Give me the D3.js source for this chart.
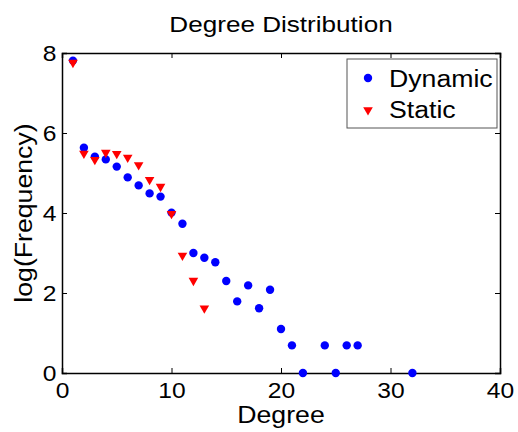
<!DOCTYPE html>
<html>
<head>
<meta charset="utf-8">
<script src="https://cdn.jsdelivr.net/npm/d3@7"></script>
<style>
  body { margin: 0; background: #fff; }
  text { font-family: "Liberation Sans", Arial, sans-serif; fill: #000; }
</style>
</head>
<body>
<svg id="chart" width="518" height="432"></svg>
<script>
// degree values and log(frequency)
const dynamicDegree = [1, 2, 3, 4, 5, 6, 7, 8, 9, 10, 11, 12, 13, 14, 15, 16, 17, 18, 19, 20, 21, 22, 24, 25, 26, 27, 32];
const dynamicLogFreq = [7.81, 5.63, 5.41, 5.34, 5.16, 4.89, 4.69, 4.49, 4.41, 4.01, 3.73, 3.0, 2.88, 2.77, 2.3, 1.79, 2.19, 1.62, 2.08, 1.1, 0.69, 0, 0.69, 0, 0.69, 0.69, 0];
const staticDegree = [1, 2, 3, 4, 5, 6, 7, 8, 9, 10, 11, 12, 13];
const staticLogFreq = [7.76, 5.49, 5.33, 5.51, 5.48, 5.39, 5.2, 4.83, 4.66, 3.98, 2.94, 2.31, 1.62];
const xTicks = [0, 10, 20, 30, 40];
const yTicks = [0, 2, 4, 6, 8];

const margin = {top: 53, right: 18, bottom: 59, left: 62};
const width = 518 - margin.left - margin.right;
const height = 432 - margin.top - margin.bottom;

const svg = d3.select('#chart');
const g = svg.append('g').attr('transform', `translate(${margin.left},${margin.top})`);

const x = d3.scaleLinear().domain([0, 40]).range([0, width]);
const y = d3.scaleLinear().domain([0, 8]).range([height, 0]);

// matlab text looks wider than arial, so stretch it a bit
function label(parent, tx, ty, size, str, rot) {
  return parent.append('text')
    .attr('transform', `translate(${tx},${ty})` + (rot ? ` rotate(${rot})` : '') + ' scale(1.16,1)')
    .attr('text-anchor', 'middle')
    .style('font-size', size + 'px')
    .text(str);
}

// axes, ticks pointing inward
const tickFmt = d3.format('d');
g.append('g').attr('class', 'xaxis').attr('transform', `translate(0,${height})`)
  .call(d3.axisBottom(x).tickValues(xTicks).tickSize(-5).tickPadding(12).tickFormat(tickFmt));
g.append('g')
  .call(d3.axisTop(x).tickValues(xTicks).tickSize(-5).tickFormat(''));
g.append('g').attr('class', 'yaxis')
  .call(d3.axisLeft(y).tickValues(yTicks).tickSize(-5).tickPadding(5).tickFormat(tickFmt));
g.append('g').attr('transform', `translate(${width},0)`)
  .call(d3.axisRight(y).tickValues(yTicks).tickSize(-5).tickFormat(''));

g.selectAll('.domain').attr('stroke', '#000').attr('stroke-width', 1.5);
g.selectAll('.tick line').attr('stroke', '#000').attr('stroke-width', 1);
g.selectAll('.tick text').style('font-size', '22px').attr('font-family', null)
  .attr('fill', '#000').attr('transform', 'scale(1.12,1)');
g.select('.xaxis').selectAll('.tick text').attr('dy', '0.6em');
g.select('.yaxis').selectAll('.tick text').attr('dy', '0.36em');

// series
const dyn = dynamicDegree.map((d, i) => [d, dynamicLogFreq[i]]);
const sta = staticDegree.map((d, i) => [d, staticLogFreq[i]]);

const tri = d3.symbol().type(d3.symbolTriangle).size(40);

g.append('g').selectAll('circle').data(dyn).join('circle')
  .attr('cx', d => x(d[0])).attr('cy', d => y(d[1]))
  .attr('r', 4.2).attr('fill', '#0000ff');

g.append('g').selectAll('path').data(sta).join('path')
  .attr('d', tri)
  .attr('transform', d => `translate(${x(d[0])},${y(d[1])}) rotate(180)`)
  .attr('fill', '#ff0000');

// legend
const lg = svg.append('g').attr('transform', 'translate(347,59)');
lg.append('rect').attr('width', 150).attr('height', 69)
  .attr('fill', '#fff').attr('stroke', '#555').attr('stroke-width', 1);
lg.append('circle').attr('cx', 21).attr('cy', 19).attr('r', 4.2).attr('fill', '#0000ff');
lg.append('path').attr('d', tri)
  .attr('transform', 'translate(21,51) rotate(180)').attr('fill', '#ff0000');
label(lg, 42, 28, 23, 'Dynamic').attr('text-anchor', 'start');
label(lg, 42, 59, 23, 'Static').attr('text-anchor', 'start');

// titles
label(svg, margin.left + width / 2, 32, 22.5, 'Degree Distribution');
label(svg, margin.left + width / 2, 423, 23, 'Degree');
label(svg, 32, margin.top + height / 2, 23, 'log(Frequency)', -90);
</script>
</body>
</html>
